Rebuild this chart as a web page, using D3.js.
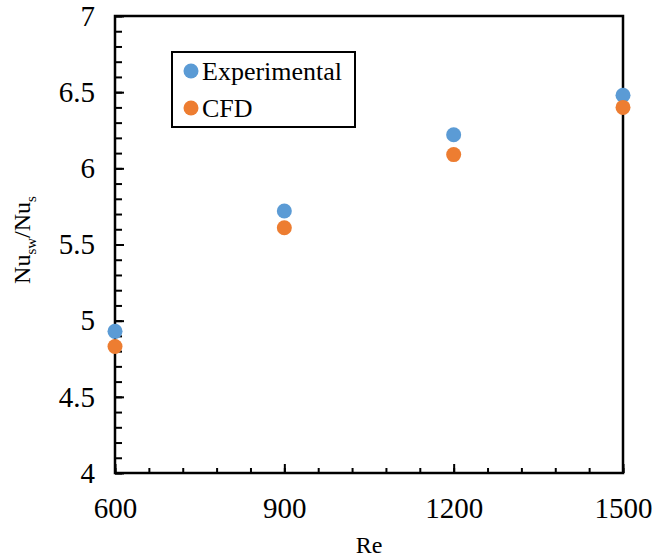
<!DOCTYPE html>
<html>
<head>
<meta charset="utf-8">
<script src="https://cdn.jsdelivr.net/npm/d3@7"></script>
<style>
  body { margin: 0; background: #fff; }
  text { font-family: "Liberation Serif", "Times New Roman", serif; fill: #000; }
</style>
</head>
<body>
<script>
let width = 657
let height = 560
let margin = { top: 16, right: 34, bottom: 87, left: 115 }
let serif = '"Liberation Serif", "Times New Roman", serif'

// Reynolds numbers and Nusselt ratios
let reValues = [600, 900, 1200, 1500]
let experimental = [4.93, 5.72, 6.22, 6.48]
let cfd = [4.83, 5.61, 6.09, 6.40]
let xTicks = [600, 900, 1200, 1500]
let yTicks = [4, 4.5, 5, 5.5, 6, 6.5, 7]

let series = [
    { name: "Experimental", color: "#5B9BD5", values: experimental },
    { name: "CFD", color: "#ED7D31", values: cfd }
]

let svg = d3.select("body").append("svg")
    .attr("width", width)
    .attr("height", height)

let x = d3.scaleLinear().domain([600, 1500]).range([margin.left, width - margin.right])
let y = d3.scaleLinear().domain([4, 7]).range([height - margin.bottom, margin.top])

// minor ticks, pointing inward
let xMinor = d3.range(600, 1500.1, 60)
let yMinor = d3.range(4, 7.01, 0.1)

svg.append("g")
    .attr("transform", "translate(0," + y(4) + ")")
    .call(d3.axisBottom(x).tickValues(xMinor).tickSize(-5).tickFormat(""))
svg.append("g")
    .attr("transform", "translate(0," + y(4) + ")")
    .call(d3.axisBottom(x).tickValues(xTicks).tickSize(-9).tickPadding(24).tickFormat(d3.format("d")))

svg.append("g")
    .attr("transform", "translate(" + x(600) + ",0)")
    .call(d3.axisLeft(y).tickValues(yMinor).tickSize(-7).tickFormat(""))
svg.append("g")
    .attr("transform", "translate(" + x(600) + ",0)")
    .call(d3.axisLeft(y).tickValues(yTicks).tickSize(-9).tickPadding(20).tickFormat(d => d))

svg.selectAll(".domain").remove()
svg.selectAll("g").attr("font-family", serif)
svg.selectAll(".tick line").attr("stroke", "#000").attr("stroke-width", 2)
svg.selectAll(".tick text")
    .style("font-family", serif)
    .style("font-size", "29px")

// frame around the plot
svg.append("rect")
    .attr("x", x(600))
    .attr("y", y(7))
    .attr("width", x(1500) - x(600))
    .attr("height", y(4) - y(7))
    .attr("fill", "none")
    .attr("stroke", "#000")
    .attr("stroke-width", 2.5)

series.forEach(s => {
    svg.selectAll(".pt-" + s.name)
        .data(s.values)
        .enter().append("circle")
        .attr("cx", (d, i) => x(reValues[i]))
        .attr("cy", d => y(d))
        .attr("r", 7.5)
        .attr("fill", s.color)
})

// axis titles
svg.append("text")
    .attr("x", 369)
    .attr("y", 553)
    .attr("text-anchor", "middle")
    .style("font-size", "24px")
    .text("Re")

let yTitle = svg.append("text")
    .attr("transform", "translate(30,240) rotate(-90)")
    .attr("text-anchor", "middle")
    .style("font-size", "24px")
yTitle.append("tspan").text("Nu")
yTitle.append("tspan").attr("dy", 6).style("font-size", "15px").text("sw")
yTitle.append("tspan").attr("dy", -6).text("/Nu")
yTitle.append("tspan").attr("dy", 6).style("font-size", "15px").text("s")

// legend
let legend = svg.append("g").attr("transform", "translate(172,52)")
legend.append("rect")
    .attr("width", 183)
    .attr("height", 75)
    .attr("fill", "#fff")
    .attr("stroke", "#000")
    .attr("stroke-width", 2)
series.forEach((s, i) => {
    legend.append("circle")
        .attr("cx", 19)
        .attr("cy", 19 + i * 37)
        .attr("r", 7.5)
        .attr("fill", s.color)
    legend.append("text")
        .attr("x", 30)
        .attr("y", 28 + i * 37)
        .style("font-size", "26px")
        .text(s.name)
})
</script>
</body>
</html>
